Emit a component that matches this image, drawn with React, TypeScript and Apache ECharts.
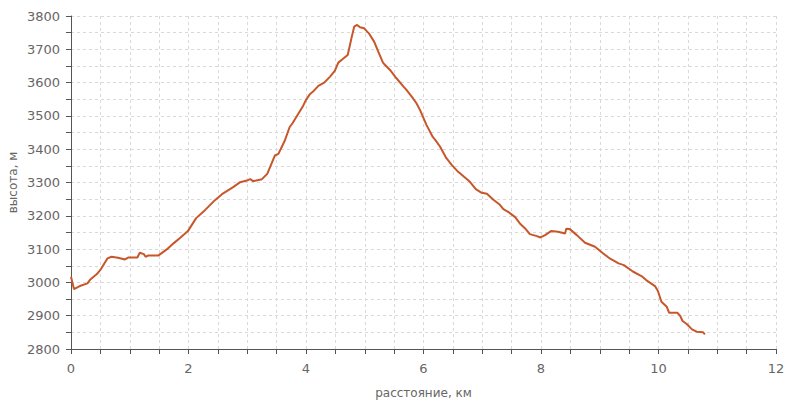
import React, { useEffect, useRef } from "react";
import * as echarts from "echarts";

const distanceKm: number[] = [
  0, 0.05, 0.15, 0.28, 0.33, 0.44, 0.51, 0.62, 0.69, 0.8, 0.92, 0.98, 1.13, 1.17, 1.24, 1.27, 1.32, 1.49, 1.63, 1.75, 1.86, 1.99,
  2.13, 2.28, 2.45, 2.57, 2.76, 2.88, 3.01, 3.05, 3.1, 3.25, 3.34, 3.47, 3.53, 3.64, 3.72, 3.77, 3.95, 4.0, 4.07, 4.12,
  4.21, 4.31, 4.41, 4.49, 4.55, 4.62, 4.71, 4.78, 4.82, 4.87, 4.92, 4.99, 5.07, 5.16, 5.23, 5.31, 5.33, 5.43, 5.54, 5.66,
  5.71, 5.8, 5.88, 5.94, 6.05, 6.16, 6.2, 6.28, 6.39, 6.48, 6.59, 6.79, 6.89, 6.99, 7.08, 7.19, 7.3, 7.36, 7.44, 7.56, 7.64,
  7.73, 7.81, 7.93, 7.99, 8.07, 8.17, 8.29, 8.41, 8.43, 8.49, 8.61, 8.75, 8.92, 9.06, 9.17, 9.32, 9.41, 9.57, 9.71, 9.79,
  9.94, 9.99, 10.05, 10.14, 10.18, 10.32, 10.37, 10.41, 10.48, 10.57, 10.65, 10.76, 10.79,
];

const altitudeM: number[] = [
  3017, 2980, 2989, 2997, 3009, 3025, 3040, 3072, 3077, 3074, 3069, 3075, 3075, 3089, 3085, 3077, 3081, 3081, 3099, 3118, 3134, 3154,
  3193, 3217, 3247, 3265, 3286, 3301, 3307, 3310, 3304, 3310, 3326, 3381, 3386, 3426, 3466, 3478, 3530, 3548, 3566, 3573,
  3590, 3600, 3618, 3635, 3660, 3670, 3683, 3738, 3768, 3773, 3766, 3763, 3748, 3723, 3693, 3660, 3656, 3638, 3613, 3588,
  3578, 3558, 3538, 3518, 3473, 3436, 3428, 3408, 3373, 3353, 3332, 3302, 3280, 3269, 3266, 3248, 3233, 3220, 3212, 3196, 3177,
  3162, 3145, 3139, 3135, 3142, 3154, 3152, 3147, 3161, 3160, 3142, 3119, 3107, 3087, 3072, 3057, 3052, 3032, 3019, 3007,
  2989, 2974, 2942, 2927, 2909, 2909, 2899, 2884, 2875, 2859, 2852, 2850, 2844,
];

const xLabelStep = 2;
const yLabelStep = 100;

export default function App() {
  const ref = useRef<HTMLDivElement>(null);
  useEffect(() => {
    if (!ref.current) return;
    const chart = echarts.init(ref.current, undefined, { renderer: "svg" });
    const data = distanceKm.map((d, i) => [d, altitudeM[i]]);
    const axisColor = "#555";
    const labelColor = "#666";
    chart.setOption({
      animation: false,
      backgroundColor: "#fff",
      grid: { left: 71, right: 24, top: 16, bottom: 51, containLabel: false, outerBoundsMode: "none" },
      xAxis: {
        type: "value",
        min: 0,
        max: 12,
        interval: 0.5,
        name: "расстояние, км",
        nameLocation: "middle",
        nameGap: 38,
        nameMoveOverlap: false,
        nameTextStyle: { color: labelColor, fontSize: 12, fontFamily: "DejaVu Sans" },
        axisLine: { show: true, lineStyle: { color: axisColor, width: 1 } },
        axisTick: { show: true, length: 5, lineStyle: { color: axisColor } },
        axisLabel: {
          color: labelColor,
          fontSize: 13,
          fontFamily: "DejaVu Sans",
          margin: 13,
          formatter: (v: number) => (Math.abs(v % xLabelStep) < 1e-9 ? String(v) : ""),
        },
        splitLine: { show: true, lineStyle: { color: "#d9d9d9", type: [3, 3], width: 1 } },
      },
      yAxis: {
        type: "value",
        min: 2800,
        max: 3800,
        interval: 50,
        name: "высота, м",
        nameLocation: "middle",
        nameGap: 52,
        nameRotate: 90,
        nameMoveOverlap: false,
        nameTextStyle: { color: labelColor, fontSize: 12, fontFamily: "DejaVu Sans" },
        axisLine: { show: true, lineStyle: { color: axisColor, width: 1 } },
        axisTick: { show: true, length: 5, lineStyle: { color: axisColor } },
        axisLabel: {
          color: labelColor,
          fontSize: 13,
          fontFamily: "DejaVu Sans",
          margin: 11,
          formatter: (v: number) => (v % yLabelStep === 0 ? String(v) : ""),
        },
        splitLine: { show: true, lineStyle: { color: "#d9d9d9", type: [3, 3], width: 1 } },
      },
      series: [
        {
          type: "line",
          data,
          showSymbol: false,
          symbol: "none",
          lineStyle: { color: "#c7572a", width: 2 },
        },
      ],
    });
    return () => chart.dispose();
  }, []);
  return <div ref={ref} style={{ width: 800, height: 400, position: "absolute", left: 0, top: 0 }} />;
}
